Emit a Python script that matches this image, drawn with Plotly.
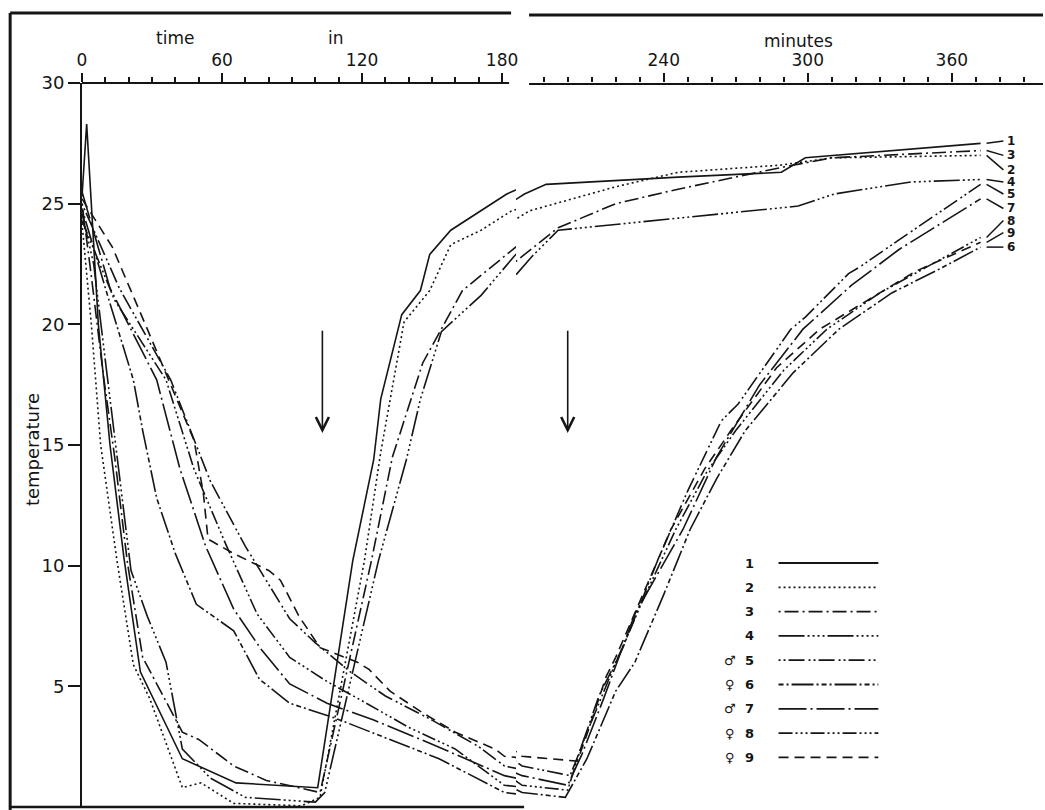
import plotly.graph_objects as go

# ---------------- data (time in minutes, temperature) ----------------
t1 = [0, 2, 7, 12, 18, 25, 43, 66, 101, 116, 125, 128, 137, 145, 149, 158, 182, 191, 246, 289, 299, 372]
T1 = [25.3, 28.3, 20.0, 15.0, 10.3, 5.6, 2.0, 1.0, 0.8, 10.2, 14.4, 16.9, 20.4, 21.4, 22.9, 23.9, 25.4, 25.8, 26.1, 26.3, 26.9, 27.5]

t2 = [0, 4, 8, 15, 22, 29, 43, 51, 65, 94, 102, 121, 128, 138, 149, 158, 171, 184, 220, 246, 289, 310, 372]
T2 = [24.2, 20.0, 15.0, 10.2, 5.9, 4.5, 0.8, 1.0, 0.15, 0.05, 0.4, 10.2, 14.7, 20.1, 21.4, 23.3, 23.9, 24.7, 25.7, 26.3, 26.6, 26.9, 27.0]

t3 = [0, 4, 9, 14, 19.5, 26, 43, 50, 65, 79, 102, 124, 133, 146, 163, 177, 196, 220, 246, 289, 310, 372]
T3 = [25.0, 22.0, 18.0, 14.5, 10.1, 6.2, 3.1, 2.8, 1.7, 1.1, 0.6, 10.2, 14.5, 18.4, 21.4, 22.5, 24.0, 25.0, 25.6, 26.5, 26.9, 27.2]

t4 = [0, 5, 10, 15, 21, 28, 36, 43, 55, 70, 100, 104, 127, 139, 145, 154, 171, 185, 196, 246, 296, 311, 343, 372]
T4 = [24.6, 22.5, 18.5, 14.5, 9.8, 7.9, 6.0, 2.4, 1.2, 0.4, 0.2, 0.6, 10.2, 14.4, 16.9, 19.7, 21.2, 22.8, 23.9, 24.4, 24.9, 25.4, 25.9, 26.0]

t5 = [0, 16, 38, 55, 70, 80, 89, 100, 115, 130, 150, 170, 181, 201, 205, 213, 223, 237, 250, 264, 271, 293, 299, 317, 322, 338, 372]
T5 = [25.0, 21.5, 17.7, 13.5, 10.8, 9.2, 7.8, 6.8, 5.6, 4.6, 3.6, 2.5, 1.7, 1.3, 2.3, 4.6, 6.6, 10.1, 13.1, 16.0, 16.7, 19.8, 20.3, 22.1, 22.4, 23.5, 25.8]

t6 = [0, 10, 22, 26, 32, 40, 49, 65, 76, 89, 108, 124, 153, 181, 199, 208, 220, 228, 240, 251, 262, 274, 294, 313, 335, 355, 372]
T6 = [24.8, 21.5, 17.7, 15.6, 12.8, 10.5, 8.4, 7.3, 5.3, 4.3, 3.7, 3.1, 2.0, 0.6, 0.4, 2.0, 4.8, 6.0, 8.8, 11.5, 13.6, 15.6, 18.0, 19.8, 21.3, 22.3, 23.2]

t7 = [0, 12, 32, 42, 53, 65, 77, 89, 105, 125, 150, 181, 200, 206, 215, 228, 248, 262, 280, 298, 318, 338, 372]
T7 = [25.5, 21.5, 17.7, 14.0, 10.8, 8.2, 6.5, 5.1, 4.3, 3.6, 2.6, 1.3, 0.9, 2.2, 4.5, 8.0, 11.5, 14.5, 17.5, 19.8, 21.6, 23.1, 25.2]

t8 = [0, 14, 36, 48, 62, 75, 89, 105, 120, 140, 160, 181, 200, 206, 218, 231, 245, 258, 270, 290, 308, 330, 350, 372]
T8 = [24.3, 21.0, 17.7, 14.0, 10.8, 8.0, 6.2, 5.2, 4.4, 3.3, 2.4, 0.9, 0.7, 2.6, 5.5, 8.5, 11.5, 13.9, 15.6, 18.1, 19.8, 21.3, 22.4, 23.6]

t9 = [0, 13, 28, 40, 48, 52, 54, 65, 80, 85, 93, 102, 118, 123, 132, 146, 160, 177, 181, 204, 208, 216, 220, 232, 243, 257, 268, 287, 305, 325, 345, 372]
T9 = [25.2, 23.2, 19.8, 17.0, 15.2, 13.0, 11.1, 10.5, 9.8, 9.4, 7.9, 6.6, 6.0, 5.7, 4.8, 3.9, 3.1, 2.4, 2.1, 1.9, 3.0, 5.4, 6.2, 9.0, 11.5, 14.0, 15.6, 18.2, 19.8, 21.0, 22.2, 23.4]

names = ["1", "2", "3", "4", "5", "6", "7", "8", "9"]
sexes = ["", "", "", "", "\u2642", "\u2640", "\u2642", "\u2640", "\u2640"]
end_label_T = [27.6, 26.4, 27.0, 25.9, 25.4, 23.2, 24.8, 24.3, 23.8]
arrow_times = [103, 200]
y_ticks = [5, 10, 15, 20, 25, 30]
x_ticks_left = [0, 60, 120, 180]
x_ticks_right = [240, 300, 360]

times = [t1, t2, t3, t4, t5, t6, t7, t8, t9]
temps = [T1, T2, T3, T4, T5, T6, T7, T8, T9]

# ---------------- styles ----------------
dashes = {
    "1": "solid",
    "2": "2px,3px",
    "3": "2px,4px,14px,4px",
    "4": "26px,3px,2px,3px,2px,3px,2px,3px,2px,3px",
    "5": "2px,3px,2px,3px,16px,4px",
    "6": "5px,3px,2px,3px,22px,3px,2px,3px",
    "7": "28px,4px,2px,4px",
    "8": "14px,3px,2px,3px,2px,3px,2px,3px",
    "9": "10px,6px",
}
INK = "#151515"
FONT = "DejaVu Sans"
W, H = 1045, 810
ML, MR, MT, MB = 82, 0, 83, 3
PW, PH = W - ML - MR, H - MT - MB


def px(x):
    return (x - ML) / PW


def py(y):
    return (H - MB - y) / PH


split = px(517)
LEFT_RANGE = [0, 186]
RIGHT_RANGE = [178.5, 398]

fig = go.Figure()
for name, tt, TT in zip(names, times, temps):
    for xa in ["x", "x2"]:
        fig.add_trace(go.Scatter(
            x=tt, y=TT, mode="lines", xaxis=xa, yaxis="y",
            line=dict(color=INK, width=1.6, dash=dashes[name]),
            showlegend=False, hoverinfo="skip"))

shapes = []
annotations = []


def pline(x0, y0, x1, y1, w=2):
    shapes.append(dict(type="line", xref="paper", yref="paper",
                       x0=px(x0), y0=py(y0), x1=px(x1), y1=py(y1),
                       line=dict(color=INK, width=w)))


def ptext(txt, x, y, size, angle=0):
    annotations.append(dict(text=txt, xref="paper", yref="paper", x=px(x), y=py(y),
                            xanchor="center", yanchor="middle", textangle=angle,
                            showarrow=False, font=dict(family=FONT, size=size, color=INK)))


# frame lines
pline(10, 13, 512, 13, 3)
pline(530, 15, 1045, 15, 3)
pline(10, 13, 10, 810, 3)
pline(10, 807, 525, 807, 2.5)
pline(82, 83, 510, 83, 2)
pline(530, 84, 1045, 84, 2)

# axis titles
ptext("time", 175, 38, 17)
ptext("in", 337, 38, 17)
ptext("minutes", 800, 41, 17)
ptext("temperature", 33, 450, 18, -90)

# arrows
for ta in arrow_times:
    xr = "x" if ta < 180 else "x2"
    annotations.append(dict(x=ta, y=15.5, xref=xr, yref="y", ax=ta, ay=19.8,
                            axref=xr, ayref="y", showarrow=True, arrowhead=5,
                            arrowsize=1.6, arrowwidth=1.6, arrowcolor=INK, text=""))

# end labels with leaders
for name, tt, TT, ly in zip(names, times, temps, end_label_T):
    shapes.append(dict(type="line", xref="x2", yref="y", x0=tt[-1] + 2.5, y0=TT[-1],
                       x1=381.5, y1=ly, line=dict(color=INK, width=1.5)))
    annotations.append(dict(text="<b>%s</b>" % name, xref="x2", yref="y", x=384.5, y=ly,
                            xanchor="center", yanchor="middle",
                            showarrow=False, font=dict(family=FONT, size=12, color=INK)))

# legend
for i, (name, sx) in enumerate(zip(names, sexes)):
    yy = 563 + i * 24.3
    shapes.append(dict(type="line", xref="paper", yref="paper", x0=px(780), x1=px(880),
                       y0=py(yy), y1=py(yy),
                       line=dict(color=INK, width=1.8, dash=dashes[name])))
    ptext("<b>%s</b>" % name, 751, yy, 13)
    if sx:
        ptext(sx, 731, yy, 13)

common_x = dict(side="top", anchor="y", showgrid=False, zeroline=False, showline=False,
                ticks="outside", ticklen=9, tickwidth=1.8, tickcolor=INK,
                tickfont=dict(family=FONT, size=17, color=INK), fixedrange=True)

fig.update_layout(
    width=W, height=H,
    margin=dict(l=ML, r=MR, t=MT, b=MB, pad=0),
    paper_bgcolor="white", plot_bgcolor="white",
    showlegend=False,
    xaxis=dict(domain=[0, split], range=LEFT_RANGE, tickmode="array", tickvals=x_ticks_left,
               minor=dict(tickmode="array", tickvals=list(range(10, 186, 10)),
                          ticks="outside", ticklen=5, tickwidth=1.5, tickcolor=INK),
               **common_x),
    xaxis2=dict(domain=[split, 1], range=RIGHT_RANGE, tickmode="array", tickvals=x_ticks_right,
                minor=dict(tickmode="array", tickvals=list(range(190, 400, 10)),
                           ticks="outside", ticklen=5, tickwidth=1.5, tickcolor=INK),
                **common_x),
    yaxis=dict(domain=[0, 1], range=[0, 30], anchor="x", tickmode="array", tickvals=y_ticks,
               ticks="outside", ticklen=12, tickwidth=2, tickcolor=INK,
               showline=True, linewidth=2, linecolor=INK, showgrid=False, zeroline=False,
               tickfont=dict(family=FONT, size=18, color=INK), fixedrange=True),
    shapes=shapes, annotations=annotations,
)

fig.write_html("out.html")
